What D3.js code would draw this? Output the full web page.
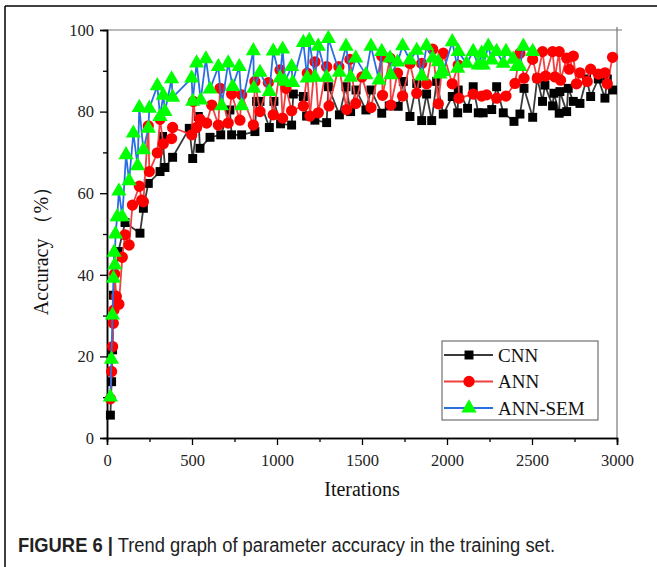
<!DOCTYPE html>
<html><head><meta charset="utf-8">
<script src="https://cdn.jsdelivr.net/npm/d3@7/dist/d3.min.js"></script>
<style>body{margin:0;background:#fff}svg{display:block}</style>
</head><body>
<script>
// ---- data ----
const seriesNames = ["CNN", "ANN", "ANN-SEM"];
const xTicks = [0, 500, 1000, 1500, 2000, 2500, 3000];
const yTicks = [0, 20, 40, 60, 80, 100];

const cnnX = [20,27,33,38,67,106,194,214,243,312,327,341,386,484,504,537,547,606,669,723,733,792,870,880,900,955,982,1021,1086,1096,1155,1174,1223,1292,1302,1367,1406,1433,1465,1523,1553,1616,1660,1713,1743,1782,1822,1851,1880,1910,1939,1978,2031,2063,2066,2121,2154,2184,2213,2263,2292,2331,2394,2429,2453,2504,2531,2562,2576,2621,2629,2660,2664,2704,2713,2743,2782,2821,2845,2890,2929,2943,2974];
const cnnY = [5.6,13.8,21.6,35,45.7,52.8,50.2,56.3,62.4,65.3,73.9,66.3,68.8,75.9,68.5,78.8,71.0,73.7,74.3,80.4,74.3,74.3,75.1,82.5,82.5,76.1,82.5,77.0,76.7,84.3,83.7,78.9,77.9,77.3,86.1,79.2,86.1,80.0,85.3,80.4,85.3,79.6,81.4,81.3,87.4,78.8,86.9,77.8,84.3,77.8,87.4,79.4,83.7,79.7,85.3,80.8,86.1,79.7,79.7,80.5,86.1,79.7,77.6,79.4,85.7,78.6,88.2,82.5,86.5,81.4,84.5,79.6,84.9,80.0,85.7,82.5,82.0,88.0,83.7,88.0,83.3,88.0,85.3];

const annX = [20,27,33,37,41,45,55,70,90,106,130,150,190,204,214,243,249,296,312,331,380,386,498,508,527,547,586,616,655,665,713,733,782,792,861,870,900,949,978,1018,1033,1053,1086,1155,1178,1194,1223,1243,1292,1306,1364,1410,1429,1463,1500,1553,1616,1621,1665,1670,1709,1739,1782,1822,1851,1880,1916,1949,1978,2031,2066,2070,2154,2204,2233,2292,2347,2400,2429,2453,2504,2531,2562,2580,2621,2635,2660,2668,2704,2719,2743,2762,2782,2825,2845,2890,2929,2943,2974];
const annY = [9.6,16.3,22.4,28.1,31.4,40.2,34.7,32.8,44.3,49.8,47.3,57.1,61.7,58.3,57.9,76.5,65.3,69.9,78.1,72.1,73.4,76.1,74.3,82.5,76.1,78.1,77.2,81.6,76.7,85.7,77.2,84.3,77.9,84.1,76.7,87.4,80.0,87.1,79.2,90.2,78.4,85.7,80.2,81.4,89.4,78.9,92.2,79.7,91.0,81.4,91.0,80.5,92.8,82.0,88.5,81.0,93.6,84.0,93.1,81.6,89.4,83.8,91.8,84.5,91.8,86.8,95.3,81.9,94.3,86.8,91.4,83.3,84.3,83.8,84.1,83.3,83.8,86.9,94.3,88.2,92.8,88.2,94.7,88.7,94.7,88.5,94.7,87.7,93.1,90.4,93.6,86.8,89.5,87.4,90.4,89.2,89.5,86.8,93.3];

const semX = [20,26,32,38,42,46,50,60,70,90,112,130,155,180,190,214,243,249,296,312,331,341,380,386,498,504,527,551,582,606,655,674,713,739,778,792,861,864,900,955,978,1018,1033,1047,1086,1092,1155,1178,1190,1223,1243,1292,1302,1367,1406,1433,1463,1523,1553,1600,1616,1665,1669,1709,1739,1782,1822,1851,1880,1916,1949,1959,1978,2031,2063,2066,2115,2154,2184,2204,2213,2243,2263,2292,2331,2347,2390,2410,2429,2449,2504];
const semY = [10,19.3,30.1,39.1,45.5,42.4,50,54.2,60.5,54.2,69.4,63,74.7,66.7,81,70.6,75.9,80.8,86.3,78.8,84,80,88,83.5,88.2,82.5,91.9,82.8,92.9,85.5,91,81.4,91.9,86.1,91,81.4,94.9,85.7,89.6,84.9,94.8,88.2,95.3,87.4,91.0,87.1,96.9,88.2,97.4,88.4,96.0,88.4,97.9,89.6,96.0,88.4,93.1,89.0,96.0,87.7,94.7,93.1,89,92.1,96.1,92.6,95.0,88.7,96.1,93.1,92.2,89.2,89.8,97.1,90.6,94.7,91.8,94.7,91.4,94.3,91.4,96.0,92.6,94.7,91.8,94.7,92.8,91.0,91.0,96.0,94.7];

// ---- chart ----
const W = 657, H = 567;
const svg = d3.select("body").append("svg").attr("width", W).attr("height", H);

// outer figure frame
svg.append("line").attr("x1",5).attr("x2",W).attr("y1",6).attr("y2",6).attr("stroke","#000").attr("stroke-width",1.5);
svg.append("line").attr("x1",5).attr("x2",5).attr("y1",6).attr("y2",H).attr("stroke","#000").attr("stroke-width",1.5);

const x = d3.scaleLinear().domain([0,3000]).range([107,617]);
const y = d3.scaleLinear().domain([0,100]).range([438,30]);

// top/right frame
svg.append("line").attr("x1",107).attr("x2",622).attr("y1",y(100)).attr("y2",y(100)).attr("stroke","#777").attr("stroke-width",1.2);
svg.append("line").attr("x1",617).attr("x2",617).attr("y1",27).attr("y2",438).attr("stroke","#777").attr("stroke-width",1.2);

const serif = "'Liberation Serif','Times New Roman',serif";

// axes
const xMinor = d3.range(250, 3000, 500);
const gx = svg.append("g").attr("transform","translate(0,438)");
gx.call(d3.axisBottom(x).tickValues(xTicks).tickSize(7).tickPadding(9).tickFormat(d3.format("d")));
gx.append("g").call(d3.axisBottom(x).tickValues(xMinor).tickSize(4).tickFormat(""));
const gy = svg.append("g").attr("transform","translate(107,0)");
gy.call(d3.axisLeft(y).tickValues(yTicks).tickSize(7).tickPadding(6));
gy.append("g").call(d3.axisLeft(y).tickValues(d3.range(10,100,20)).tickSize(4).tickFormat(""));
svg.selectAll(".domain").attr("stroke","#000").attr("stroke-width",1.5);
svg.selectAll(".tick line").attr("stroke","#000").attr("stroke-width",1.3);
svg.selectAll(".tick text").attr("font-family",serif).attr("font-size",16.5).attr("fill","#222");

// axis titles
svg.append("text").attr("x",362).attr("y",496).attr("text-anchor","middle")
  .attr("font-family",serif).attr("font-size",20).attr("fill","#111").text("Iterations");
svg.append("text").attr("transform","translate(48,246) rotate(-90)").attr("text-anchor","middle")
  .attr("font-family",serif).attr("font-size",20).attr("fill","#111").text("Accuracy （%）");

// series
const series = [
  {name:seriesNames[0], xs:cnnX, ys:cnnY, line:"#3a3a3a", fill:"#000", shape:"square"},
  {name:seriesNames[1], xs:annX, ys:annY, line:"#f04040", fill:"#ff0000", shape:"circle"},
  {name:seriesNames[2], xs:semX, ys:semY, line:"#2a6fe0", fill:"#00ff00", shape:"triangle"}
];
const sym = {square:d3.symbolSquare, circle:d3.symbolCircle, triangle:d3.symbolTriangle};
const size = {square:80, circle:100, triangle:100};
const lineGen = d3.line().x(d=>x(d[0])).y(d=>y(d[1]));

series.forEach(s => {
  const pts = s.xs.map((v,i)=>[v, s.ys[i]]);
  svg.append("path").datum(pts).attr("d",lineGen).attr("fill","none")
    .attr("stroke",s.line).attr("stroke-width",1.8).attr("stroke-linejoin","round");
  svg.append("g").selectAll("path").data(pts).join("path")
    .attr("transform",d=>`translate(${x(d[0])},${y(d[1])})`)
    .attr("d",d3.symbol().type(sym[s.shape]).size(size[s.shape]))
    .attr("fill",s.fill);
});

// legend
const lg = svg.append("g");
lg.append("rect").attr("x",442).attr("y",341).attr("width",156).attr("height",79)
  .attr("fill","#fff").attr("stroke","#555").attr("stroke-width",1);
series.forEach((s,i) => {
  const cy = 355 + i*26.5;
  lg.append("line").attr("x1",444).attr("x2",493).attr("y1",cy).attr("y2",cy).attr("stroke",s.line).attr("stroke-width",1.8);
  lg.append("path").attr("transform",`translate(469,${cy})`).attr("d",d3.symbol().type(sym[s.shape]).size(size[s.shape])).attr("fill",s.fill);
  lg.append("text").attr("x",498).attr("y",cy+6.5).attr("font-family",serif).attr("font-size",19).attr("fill","#111").text(s.name);
});

// caption
const cap = svg.append("text").attr("x",18).attr("y",552)
  .attr("font-family","'Liberation Sans Narrow','Liberation Sans',Arial,sans-serif").attr("font-size",20).attr("fill","#222")
  .attr("textLength",537).attr("lengthAdjust","spacingAndGlyphs");
cap.append("tspan").attr("font-weight","bold").text("FIGURE 6 |");
cap.append("tspan").text(" Trend graph of parameter accuracy in the training set.");
</script>
</body></html>
